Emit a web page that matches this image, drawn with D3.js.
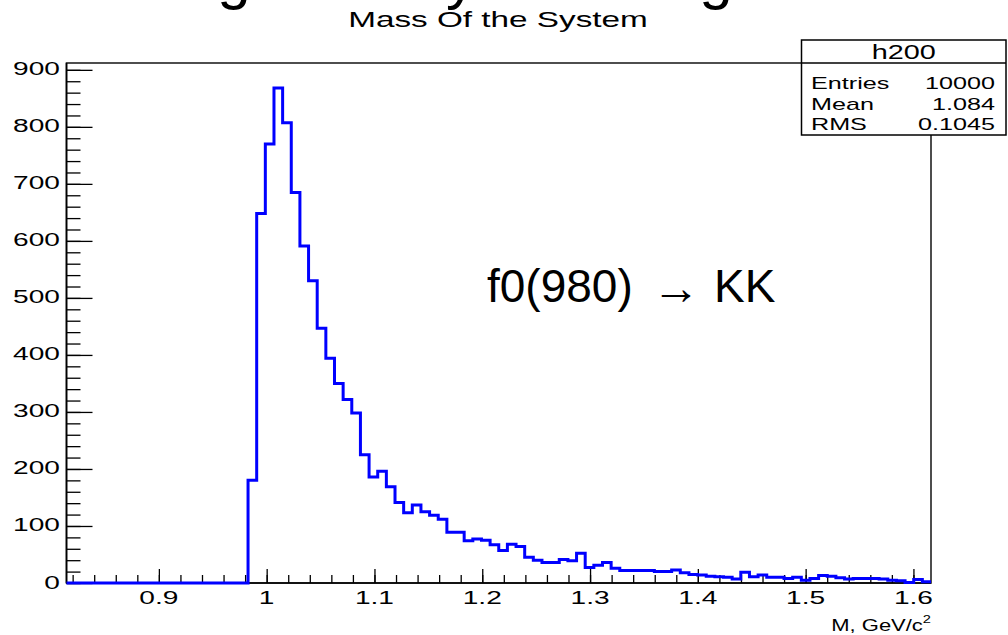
<!DOCTYPE html>
<html><head><meta charset="utf-8">
<script src="https://cdn.jsdelivr.net/npm/d3@7"></script>
<style>
body{margin:0;background:#fff}
svg{display:block}
text{font-family:"Liberation Sans",Arial,Helvetica,sans-serif;fill:#000}
</style>
</head><body>
<svg id="c" width="1008" height="635"></svg>
<script>
// ---- data ----
const histName = "h200";
const chartTitle = "Mass Of the System";
const xAxisTitle = "M, GeV/c";
const xAxisTitleSup = "2";
const annotationParts = ["f0(980)", "\u2192", "KK"];
const xMin = 0.8143, xMax = 1.6163, nBins = 100;
const yMax = 912;
const counts = [
  0,0,0,0,0,0,0,0,0,0,
  0,0,0,0,0,0,0,0,0,0,
  0,180,648,770,868,807,685,591,530,447,
  394,350,322,298,225,186,196,169,141,123,
  137,125,119,112,89,89,74,77,75,67,
  57,68,64,45,40,36,36,41,39,52,
  27,31,36,26,22,22,22,22,20,20,
  23,18,15,14,12,11,10,7,19,11,
  14,10,10,8,10,5,8,13,12,9,
  7,8,8,8,7,5,4,1,6,2
];
const yTicks = [0,100,200,300,400,500,600,700,800,900];
const yTickLabels = ["0","100","200","300","400","500","600","700","800","900"];
const xTicks = [0.9,1.0,1.1,1.2,1.3,1.4,1.5,1.6];
const xTickLabels = ["0.9","1","1.1","1.2","1.3","1.4","1.5","1.6"];
const statsLabels = ["Entries","Mean","RMS"];
const statsValues = ["10000","1.084","0.1045"];
const topGlyphs = ["g","y","g"];

// ---- layout ----
const L = 66.5, R = 931, T = 63, B = 583;
const SX = 1.48; // horizontal stretch of the ROOT canvas text
const svg = d3.select("#c");
const x = d3.scaleLinear().domain([xMin, xMax]).range([L, R]);
const y = d3.scaleLinear().domain([0, yMax]).range([B, T]);
const w = (xMax - xMin) / nBins;

// cropped slide heading glyphs at very top
const glyphX = [234, 461, 716];
topGlyphs.forEach((g, i) => {
  svg.append("text").attr("x", glyphX[i]).attr("y", -2)
    .attr("text-anchor", "middle").style("font-size", "60px").text(g);
});

// title
svg.append("text").attr("transform", `translate(498,27) scale(${SX},1)`)
  .attr("text-anchor", "middle").style("font-size", "22.5px").text(chartTitle);

// frame
svg.append("rect").attr("x", L).attr("y", T).attr("width", R - L).attr("height", B - T)
  .attr("fill", "none").attr("stroke", "#222").attr("stroke-width", 1.6);

// histogram
const pts = counts.map((c, i) => [xMin + i * w, c]);
pts.push([xMax, counts[counts.length - 1]]);
const line = d3.line().x(d => x(d[0])).y(d => y(d[1])).curve(d3.curveStepAfter);

// axes ticks
const xMinor = d3.range(41, 81).map(k => +(k * 0.02).toFixed(2));
const yMinor = d3.range(0, 901, 20);
function strip(g){ g.select(".domain").remove(); g.selectAll("line").attr("stroke","#000").attr("stroke-width",1.3); }
svg.append("g").attr("transform", `translate(0,${B})`)
  .call(d3.axisBottom(x).tickValues(xMinor).tickSize(-8).tickFormat("")).call(strip);
svg.append("g").attr("transform", `translate(0,${B})`)
  .call(d3.axisBottom(x).tickValues(xTicks).tickSize(-14).tickFormat("")).call(strip);
svg.append("g").attr("transform", `translate(${L},0)`)
  .call(d3.axisLeft(y).tickValues(yMinor).tickSize(-14).tickFormat("")).call(strip);
svg.append("g").attr("transform", `translate(${L},0)`)
  .call(d3.axisLeft(y).tickValues(yTicks).tickSize(-26).tickFormat("")).call(strip);
svg.append("line").attr("x1", L).attr("x2", L).attr("y1", T).attr("y2", B).attr("stroke", "#000").attr("stroke-width", 1.6);
svg.append("line").attr("x1", L).attr("x2", R).attr("y1", B).attr("y2", B).attr("stroke", "#000").attr("stroke-width", 1.6);
svg.append("path").attr("d", line(pts)).attr("fill", "none")
  .attr("stroke", "#0000ff").attr("stroke-width", 3).attr("stroke-linejoin", "miter");

// tick labels
yTicks.forEach((v, i) => {
  svg.append("text").attr("transform", `translate(60,${y(v) + 5.5}) scale(${SX},1)`)
    .attr("text-anchor", "end").style("font-size", "19px").text(yTickLabels[i]);
});
xTicks.forEach((v, i) => {
  svg.append("text").attr("transform", `translate(${x(v)},604) scale(${SX},1)`)
    .attr("text-anchor", "middle").style("font-size", "19px").text(xTickLabels[i]);
});
// x axis title
const xt = svg.append("text").attr("transform", `translate(931,631) scale(${SX * 0.9},1)`)
  .attr("text-anchor", "end").style("font-size", "16.5px");
xt.append("tspan").text(xAxisTitle);
xt.append("tspan").attr("dy", -8).style("font-size", "11px").text(xAxisTitleSup);

// stats box
const bx = 801.5, by = 40, bw = 204.5, bh = 95, hh = 23;
svg.append("rect").attr("x", bx).attr("y", by).attr("width", bw).attr("height", bh)
  .attr("fill", "#fff").attr("stroke", "#000").attr("stroke-width", 1.5);
svg.append("line").attr("x1", bx).attr("x2", bx + bw).attr("y1", by + hh).attr("y2", by + hh)
  .attr("stroke", "#000").attr("stroke-width", 1.3);
svg.append("text").attr("transform", `translate(${bx + bw / 2},${by + 19}) scale(${SX},1)`)
  .attr("text-anchor", "middle").style("font-size", "19.5px").text(histName);
statsLabels.forEach((s, i) => {
  const yy = 89 + i * 20.5;
  svg.append("text").attr("transform", `translate(811,${yy}) scale(${SX},1)`)
    .style("font-size", "17px").text(s);
  svg.append("text").attr("transform", `translate(995,${yy}) scale(${SX},1)`)
    .attr("text-anchor", "end").style("font-size", "17px").text(statsValues[i]);
});

// annotation
svg.append("text").attr("x", 487).attr("y", 302).style("font-size", "46px").text(annotationParts[0]);
svg.append("text").attr("x", 676).attr("y", 304).attr("text-anchor", "middle").style("font-size", "48px").text(annotationParts[1]);
svg.append("text").attr("x", 714).attr("y", 302).style("font-size", "46px").text(annotationParts[2]);
</script>
</body></html>
